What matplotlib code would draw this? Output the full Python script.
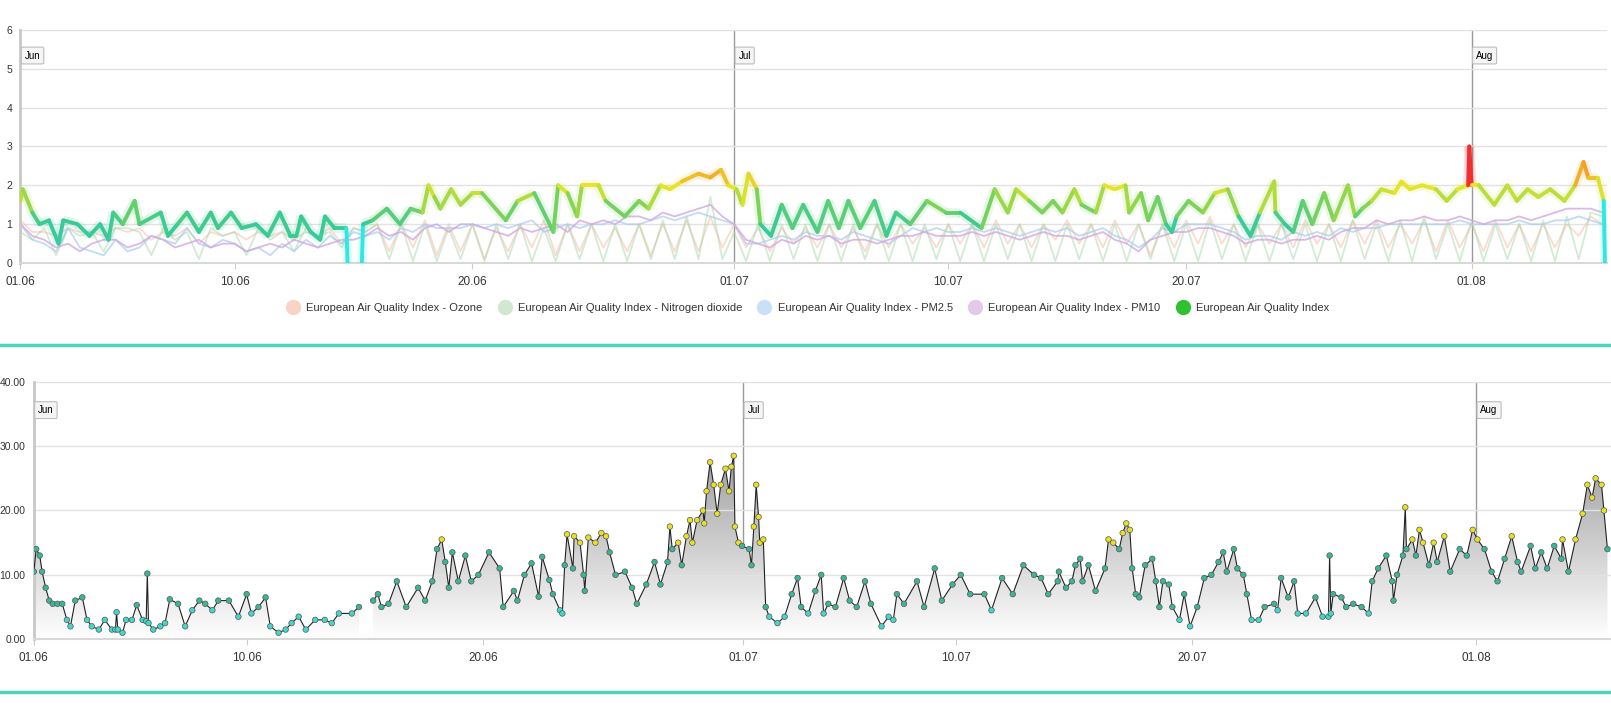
import numpy as np
import matplotlib
matplotlib.use("Agg")
import matplotlib.pyplot as plt
from matplotlib.collections import LineCollection
from matplotlib.colors import LinearSegmentedColormap
from matplotlib.lines import Line2D
from matplotlib.path import Path

# days counted from 01.06 00:00
TICK_DAYS   = [0, 9, 19, 30, 39, 49, 61]
TICK_LABELS = ["01.06", "10.06", "20.06", "01.07", "10.07", "20.07", "01.08"]
MONTH_DAYS  = [0, 30, 61]
MONTH_NAMES = ["Jun", "Jul", "Aug"]
X_END = 66.7

# ---- top chart: European Air Quality Index ----
aqi_days = [0, 0.1, 0.5, 0.8, 1.2, 1.6, 1.8, 2.4, 2.9, 3.35, 3.7, 3.9, 4.3, 4.8, 5.0, 5.9, 6.2, 6.6,
            7.0, 7.5, 8.0, 8.3, 8.85, 9.3, 9.9, 10.4, 10.9, 11.35, 11.6, 11.8, 12.2, 12.6, 12.8, 13.2,
            13.7, 13.75, 14.0, 14.35, 14.4, 14.8, 15.4, 15.95, 16.4, 16.9, 17.15, 17.4, 17.65, 18.1,
            18.5, 19.0,
            19.4, 20.4, 20.9, 21.6, 22.4, 22.6, 23.0, 23.4, 23.6, 24.3, 24.6, 25.4, 26.0, 26.4, 26.9,
            27.3, 27.8, 28.5, 29.0, 29.45, 29.75, 30.1, 30.35, 30.6, 30.95, 31.1, 31.55, 32.0, 32.45,
            32.9, 33.5, 33.95, 34.4, 34.8, 35.3, 35.9, 36.4, 36.8, 37.4, 38.1, 38.9, 39.5, 40.4, 40.95,
            41.5, 41.85, 42.4, 42.95,
            43.4, 43.8, 44.3, 44.6, 45.2, 45.55, 46.0, 46.45, 46.6, 47.1, 47.4, 47.8, 48.15, 48.4,
            48.6, 49.1, 49.7, 50.2, 50.75, 51.2, 51.7, 52.1, 52.7, 52.75, 53.15, 53.5, 53.9, 54.3,
            54.8, 55.2, 55.8, 56.1, 56.4, 56.8, 57.2, 57.75, 58.05, 58.4, 58.9, 59.5, 59.95, 60.4,
            60.85, 60.9, 61.0, 61.3, 61.95, 62.5, 62.9, 63.35, 63.8, 64.3, 64.9, 65.35, 65.7, 65.9,
            66.3, 66.55, 66.6]
aqi_vals = [1.6, 1.9, 1.3, 1.0, 1.1, 0.5, 1.1, 1.0, 0.7, 1.0, 0.6, 1.3, 1.0, 1.6, 1.0, 1.3, 0.7, 1.0,
            1.3, 0.8, 1.3, 0.9, 1.3, 0.9, 1.0, 0.7, 1.3, 0.7, 0.7, 1.2, 0.8, 0.6, 1.2, 0.9,
            0.9, 0.0, np.nan, 0.0, 1.0, 1.1, 1.4, 1.0, 1.4, 1.3, 2.0, 1.7, 1.4, 1.9,
            1.5, 1.8,
            1.8, 1.1, 1.6, 1.8, 0.8, 2.0, 1.8, 1.2, 2.0, 2.0, 1.6, 1.2, 1.6, 1.4, 2.0,
            1.9, 2.1, 2.3, 2.2, 2.4, 2.0, 1.9, 1.5, 2.3, 1.9, 1.0, 0.7, 1.5, 0.9,
            1.5, 0.8, 1.6, 0.9, 1.6, 0.9, 1.6, 0.7, 1.3, 1.0, 1.6, 1.3, 1.3, 0.9, 1.9,
            1.3, 1.9, 1.6, 1.3,
            1.6, 1.3, 1.9, 1.5, 1.3, 2.0, 1.9, 2.0, 1.3, 1.8, 1.1, 1.7, 1.0, 0.8,
            1.2, 1.6, 1.3, 1.8, 1.9, 1.2, 0.7, 1.3, 2.1, 1.3, 1.0, 0.8, 1.6, 1.0,
            1.8, 1.1, 2.0, 1.2, 1.4, 1.6, 1.9, 1.8, 2.1, 1.9, 2.0, 1.9, 1.6, 1.9,
            2.0, 3.0, 2.0, 2.0, 1.5, 2.0, 1.6, 1.9, 1.7, 1.9, 1.6, 2.0, 2.6, 2.2,
            2.2, 1.6, 0.0]

# sub indices, two readings per day (00:00 and 12:00)
pm10_vals = [1.0, 0.7, 0.6, 0.4, 0.5, 0.3, 0.5, 0.6, 0.6, 0.4, 0.5, 0.7, 0.6, 0.4, 0.5, 0.6, 0.4, 0.5, 0.5, 0.3,
             0.4, 0.5, 0.4, 0.6, 0.5, 0.4, 0.5, 0.6, 0.6, 0.7, 0.9, 0.7, 0.8, 0.6, 0.9, 1.0, 0.8, 1.0, 1.0, 0.9,
             0.8, 0.7, 0.9, 0.8, 0.9, 1.0, 0.8, 1.1, 1.0, 1.1, 1.0, 1.2, 1.2, 1.1, 1.3, 1.2, 1.3, 1.4, 1.5, 1.2,
             1.0, 0.6, 0.5, 0.4, 0.6, 0.5, 0.7, 0.6, 0.7, 0.5, 0.6, 0.6, 0.5, 0.6, 0.7, 0.7, 0.8, 0.7, 0.7, 0.7,
             0.8, 0.7, 0.8, 0.7, 0.6, 0.7, 0.8, 0.7, 0.7, 0.6, 0.7, 0.8, 0.6, 0.5, 0.3, 0.6, 0.7, 0.8, 0.8, 0.9,
             0.9, 0.8, 0.7, 0.5, 0.6, 0.6, 0.5, 0.6, 0.6, 0.7, 0.6, 0.8, 0.9, 0.9, 1.1, 1.0, 1.1, 1.1, 1.2, 1.1,
             1.1, 1.2, 1.1, 1.0, 1.1, 1.1, 1.2, 1.1, 1.2, 1.3, 1.4, 1.4, 1.4, 1.3]
no2_vals = [0.8, 0.6, 0.9, 0.2, 0.9, 0.7, 0.8, 0.3, 0.9, 0.9, 0.8, 0.2, 0.9, 0.6, 0.8, 0.1, 0.9, 0.7, 0.8, 0.2,
            0.9, 0.6, 0.8, 0.3, 0.9, 0.7, 0.8, 0.4, 0.9, 0.8, 1.0, 0.1, 1.0, 0.05, 1.0, 0.05, 0.9, 0.1, 1.0, 0.05,
            1.0, 0.1, 1.0, 0.05, 0.9, 0.05, 1.0, 0.1, 1.0, 0.05, 1.0, 0.05, 1.0, 0.1, 1.1, 0.1, 1.2, 0.1, 1.7, 0.1,
            0.8, 0.05, 1.0, 0.05, 1.0, 0.1, 1.0, 0.05, 1.0, 0.05, 1.0, 0.1, 1.0, 0.05, 1.0, 0.05, 1.0, 0.1, 1.0, 0.05,
            1.0, 0.05, 1.0, 0.1, 1.0, 0.05, 1.0, 0.05, 1.0, 0.1, 1.0, 0.05, 1.0, 0.05, 1.0, 0.1, 1.0, 0.05, 1.0, 0.05,
            1.1, 0.1, 1.0, 0.05, 1.0, 0.05, 1.0, 0.1, 1.0, 0.05, 1.0, 0.05, 1.1, 0.1, 1.0, 0.05, 1.1, 0.05, 1.2, 0.1,
            1.0, 0.05, 1.1, 0.05, 1.0, 0.1, 1.0, 0.05, 1.1, 0.05, 1.2, 0.1, 1.3, 1.2]
ozone_vals = [1.1, 0.8, 0.8, 0.7, 0.9, 0.8, 0.8, 0.7, 0.9, 0.8, 0.9, 0.6, 0.8, 0.7, 0.9, 0.5, 0.8, 0.7, 0.8, 0.6,
              0.8, 0.7, 0.8, 0.6, 0.8, 0.7, 0.9, 0.5, 0.9, 0.8, 1.0, 0.3, 1.0, 0.4, 1.1, 0.2, 1.0, 0.3, 1.0, 0.1,
              0.9, 0.3, 1.0, 0.4, 1.1, 0.2, 1.0, 0.3, 1.0, 0.4, 0.9, 0.3, 1.0, 0.2, 1.0, 0.3, 1.1, 0.3, 1.2, 0.4,
              1.0, 0.4, 0.9, 0.3, 0.9, 0.5, 0.9, 0.4, 1.0, 0.4, 0.9, 0.3, 1.0, 0.4, 1.0, 0.5, 0.9, 0.4, 1.0, 0.5,
              1.0, 0.4, 1.1, 0.5, 1.0, 0.4, 1.0, 0.6, 1.1, 0.5, 1.0, 0.4, 1.1, 0.5, 1.0, 0.2, 1.0, 0.4, 1.1, 0.5,
              1.2, 0.5, 1.0, 0.4, 1.0, 0.5, 1.0, 0.4, 1.1, 0.5, 1.0, 0.4, 1.1, 0.5, 1.1, 0.4, 1.0, 0.5, 1.1, 0.3,
              1.1, 0.4, 1.0, 0.3, 1.1, 0.4, 1.0, 0.3, 1.0, 0.4, 1.0, 0.7, 1.2, 1.0]
pm25_vals = [1.0, 0.6, 0.5, 0.3, 0.9, 0.4, 0.3, 0.2, 0.6, 0.3, 0.4, 0.7, 0.6, 0.5, 0.9, 0.5, 0.4, 0.6, 0.5, 0.3,
             0.4, 0.2, 0.5, 0.3, 0.6, 0.4, 0.7, 0.5, 0.8, 0.7, 0.8, 0.6, 0.9, 0.8, 1.0, 0.9, 0.9, 0.9, 1.0, 0.9,
             1.0, 0.9, 1.0, 1.1, 0.8, 0.9, 1.0, 0.9, 1.0, 1.0, 1.1, 1.0, 1.0, 1.1, 1.2, 1.1, 1.2, 1.3, 1.2, 1.1,
             1.0, 0.5, 0.5, 0.6, 0.7, 0.6, 0.8, 0.7, 0.7, 0.6, 0.8, 0.7, 0.6, 0.5, 0.7, 0.9, 0.8, 0.9, 0.8, 0.8,
             0.9, 0.8, 0.9, 0.8, 0.7, 0.8, 0.9, 0.8, 0.9, 0.7, 0.8, 0.9, 0.7, 0.6, 0.4, 0.6, 0.9, 0.8, 1.0, 1.0,
             1.0, 0.9, 0.8, 0.6, 0.7, 0.7, 0.6, 0.8, 0.7, 0.8, 0.7, 0.9, 0.8, 0.9, 0.9, 1.0, 1.0, 1.0, 1.0, 1.0,
             1.0, 1.1, 1.0, 1.0, 1.0, 1.0, 1.1, 1.0, 1.0, 1.1, 1.1, 1.2, 1.1, 1.0]

# ---- bottom chart: PM concentration ----
pm_days = [0.0, 0.1, 0.25, 0.35, 0.5, 0.65, 0.8, 1.0, 1.2, 1.4, 1.55, 1.75, 2.05, 2.25, 2.45, 2.75, 3.0,
           3.3, 3.45, 3.5, 3.55, 3.75, 3.9, 4.15, 4.35, 4.6, 4.75, 4.8, 4.85, 5.05, 5.35, 5.55, 5.75, 6.1,
           6.4, 6.7, 7.0, 7.25, 7.55, 7.8, 8.25, 8.65, 9.0, 9.2, 9.5, 9.8, 10.0, 10.35, 10.65, 10.9, 11.2,
           11.5, 11.9, 12.3, 12.6, 12.9, 13.45, 13.75, 14.0,
           14.35, 14.55, 14.7, 15.0, 15.35, 15.75, 16.25, 16.55, 16.85, 17.05, 17.25, 17.4, 17.55, 17.7,
           17.95, 18.25, 18.5, 18.8,
           19.25, 19.7, 19.85, 20.3, 20.45, 20.75, 21.05, 21.35, 21.5, 21.8, 21.95, 22.25, 22.35, 22.45,
           22.55, 22.8, 22.85, 23.1, 23.25, 23.3, 23.45, 23.75, 24.0, 24.2, 24.35, 24.6, 25.0, 25.3, 25.5,
           25.9, 26.25, 26.5, 26.8, 26.9, 27.0, 27.25, 27.4, 27.6, 27.75, 27.85, 28.05, 28.3, 28.35, 28.45,
           28.6, 28.75, 28.9, 29.05, 29.25, 29.4, 29.5, 29.6, 29.65, 29.8, 29.95, 30.25, 30.35, 30.45,
           30.55, 30.65, 30.7, 30.85, 30.95, 31.1, 31.45, 31.75, 32.05, 32.3, 32.45, 32.75, 33.05, 33.3,
           33.4, 33.6, 33.9, 34.25, 34.5, 34.8, 35.15, 35.4, 35.85, 36.15, 36.35, 36.5, 36.8, 37.35, 37.65,
           38.1, 38.4, 38.85, 39.2, 39.6, 40.2, 40.5, 40.95, 41.4, 41.85, 42.3,
           42.6, 42.9, 43.3, 43.35, 43.65, 43.9, 44.05, 44.25, 44.35, 44.6, 44.9, 45.3, 45.45, 45.65,
           45.9, 46.05, 46.2, 46.35, 46.45, 46.6, 46.75, 47.0, 47.3, 47.45, 47.6, 47.75, 48.0, 48.15,
           48.45, 48.65, 48.9, 49.2, 49.5, 49.8, 50.1, 50.3, 50.45, 50.75, 50.9, 51.15, 51.3, 51.5, 51.8,
           52.05, 52.45, 52.6, 52.75, 53.05, 53.3, 53.45, 53.8, 54.2, 54.5, 54.75, 54.8, 54.85, 54.95,
           55.3, 55.5, 55.8, 56.15, 56.45, 56.6, 56.85, 57.2, 57.45, 57.5, 57.65, 57.9, 58.0, 58.05,
           58.3, 58.45, 58.6, 58.75, 59.0, 59.2, 59.35, 59.65, 59.9, 60.3, 60.6, 60.85, 61.05, 61.35,
           61.65, 61.9, 62.2, 62.5, 62.75, 62.9, 63.3, 63.5, 63.75, 64.0, 64.3, 64.6, 64.65, 64.9, 65.2,
           65.5, 65.7, 65.9, 66.05, 66.3, 66.4, 66.55]
pm_vals = [10.5, 14, 13, 10.5, 8, 6, 5.5, 5.5, 5.5, 3, 2, 6, 6.5, 3, 2, 1.5, 3,
           1.5, 1.5, 4.2, 1.5, 1.0, 3, 3, 5.3, 3, 2.8, 10.2, 2.5, 1.5, 2, 2.5, 6.2, 5.5,
           2, 4.5, 6, 5.5, 4.5, 6, 6, 3.5, 7, 4, 5, 6.5, 2, 1, 1.5, 2.5, 3.5,
           1.5, 3, 3, 2.5, 4, 4, 5, np.nan,
           6, 7, 5, 5.5, 9, 5, 8, 6, 9, 14, 15.5, 12, 8, 13.5,
           9, 13, 9, 10,
           13.5, 11, 5, 7.5, 6, 10, 11.8, 6.6, 12.8, 9.2, 7, 4.5, 4, 11.5,
           16.3, 11, 16, 15, 10, 7.5, 15.8, 15, 16.5, 16, 13.5, 10, 10.5, 8, 5.5,
           8.5, 12, 8.5, 12, 17.5, 14, 15, 11.5, 16, 18.5, 15, 18.5, 20, 18, 23,
           27.5, 24, 19.5, 24, 26.5, 23, 26.8, 28.5, 17.5, 15, 14.5, 14, 11.5, 17.5,
           24, 19, 15, 15.5, 5, 3.5, 2.5, 3.5, 7, 9.5, 5, 4, 7.5, 10,
           4, 5.5, 5, 9.5, 6, 5, 9, 5.5, 2, 3.5, 3, 7, 5.5, 9, 5,
           11, 6, 8.5, 10, 7, 7, 4.5, 9.5, 7, 11.5, 10,
           9.5, 7, 9, 10.5, 8, 9, 11.5, 12.5, 9, 11.5, 7.5, 11, 15.5, 15,
           14, 16.5, 18, 17, 11, 7, 6.5, 11.5, 12.5, 9, 5, 9, 8.5, 5,
           3, 7, 2, 5, 9.5, 10, 12, 13.5, 10.5, 14, 11, 10, 7, 3, 3,
           5, 5.5, 4.5, 9.5, 6.5, 9, 4, 4, 6.5, 3.5, 3.5, 13, 4, 7,
           6.5, 5, 5.5, 5, 4, 9, 11, 13, 9, 6, 10, 13, 20.5, 14,
           15.5, 13, 17, 15, 11.5, 15, 12, 16, 10.5, 14, 13, 17, 15.5, 14,
           10.5, 9, 12.5, 16, 12, 10.5, 14.5, 11, 13.5, 11, 14.5, 12.5, 15.5, 10.5, 15.5,
           19.5, 24, 22, 25, 24, 20, 14]

LEGEND_NAMES  = ["European Air Quality Index - Ozone", "European Air Quality Index - Nitrogen dioxide",
                 "European Air Quality Index - PM2.5", "European Air Quality Index - PM10",
                 "European Air Quality Index"]
LEGEND_COLORS = ["#f9d3c6", "#cfe8cf", "#c9e0f7", "#e2c9ea", "#2fc12f"]

TEXT = "#333333"
GRID = "#e2e2e2"
TEAL = "#4dd3bd"

plt.rcParams["font.family"] = ["Liberation Sans", "DejaVu Sans"]

fig = plt.figure(figsize=(16.11, 7.11), dpi=100)
ax1 = fig.add_axes([0.0127, 0.630, 0.985, 0.328])
ax2 = fig.add_axes([0.021, 0.101, 0.979, 0.362])


def style_axes(ax, ymax, ystep, fmt):
    ax.set_xlim(0, X_END)
    ax.set_ylim(0, ymax)
    ax.set_yticks(np.arange(0, ymax + 0.01, ystep))
    ax.set_yticklabels([fmt.format(v) for v in np.arange(0, ymax + 0.01, ystep)])
    ax.set_xticks(TICK_DAYS)
    ax.set_xticklabels(TICK_LABELS)
    ax.tick_params(axis="y", length=0, labelsize=7.5, labelcolor=TEXT, pad=6)
    ax.tick_params(axis="x", length=4, color="#cccccc", labelsize=8.5, labelcolor=TEXT, pad=5)
    ax.grid(axis="y", color=GRID, linewidth=1, zorder=0)
    for side in ("top", "right"):
        ax.spines[side].set_visible(False)
    ax.spines["bottom"].set_color("#d8d8d8")
    ax.spines["bottom"].set_linewidth(1.5)
    ax.spines["left"].set_color("#c8c8c8")
    ax.spines["left"].set_linewidth(2)
    for d, name in zip(MONTH_DAYS, MONTH_NAMES):
        if d > 0:
            ax.axvline(d, color="#999999", linewidth=1, zorder=1)
        ax.text(d + 0.18, 0.89, name, transform=ax.get_xaxis_transform(), fontsize=7,
                color="black", va="center", ha="left", zorder=6,
                bbox=dict(boxstyle="round,pad=0.35,rounding_size=0.15", fc="#f5f5f5", ec="#bdbdbd", lw=0.8))


# ---- top ----
style_axes(ax1, 6, 1, "{:.0f}")
half_days = np.arange(len(pm10_vals)) * 0.5
ax1.plot(half_days, ozone_vals, color="#f6b8a4", linewidth=1.3, alpha=0.5, zorder=2)
ax1.plot(half_days, no2_vals, color="#a8d8a8", linewidth=1.3, alpha=0.5, zorder=2)
ax1.plot(half_days, pm25_vals, color="#a8ccf0", linewidth=1.3, alpha=0.7, zorder=2)
ax1.plot(half_days, pm10_vals, color="#d2a8e0", linewidth=1.3, alpha=0.8, zorder=2)

aqi_cmap = LinearSegmentedColormap.from_list(
    "aqi", [(0, "#30e8e0"), (0.2, "#33c9a4"), (0.36, "#3fca90"), (0.5, "#86d452"),
            (0.66, "#e8e628"), (0.82, "#f5952a"), (1.0, "#f03030")])
ad = np.array(aqi_days)
av = np.array(aqi_vals)
pts = np.column_stack([ad, av]).reshape(-1, 1, 2)
segs = np.concatenate([pts[:-1], pts[1:]], axis=1)
pair = np.column_stack([av[:-1], av[1:]])
seg_vals = np.nanmean(pair, axis=1)
seg_vals = np.where(np.nanmax(pair, axis=1) >= 2.9, 3.0, seg_vals)
seg_vals = np.where(np.nanmin(pair, axis=1) < 0.05, 0.0, seg_vals)
glow = LineCollection(segs, cmap=aqi_cmap, linewidth=7, alpha=0.15, zorder=3)
glow.set_array(seg_vals)
glow.set_clim(0, 3)
ax1.add_collection(glow)
main = LineCollection(segs, cmap=aqi_cmap, linewidth=2.8, zorder=4, capstyle="round", joinstyle="round")
main.set_array(seg_vals)
main.set_clim(0, 3)
ax1.add_collection(main)

handles = [Line2D([], [], marker="o", linestyle="", markersize=10, color=c) for c in LEGEND_COLORS]
fig.legend(handles, LEGEND_NAMES, loc="center", bbox_to_anchor=(0.5, 0.567), ncol=5, frameon=False,
           fontsize=8, labelcolor=TEXT, handletextpad=0.2, columnspacing=1.0)

# ---- bottom ----
style_axes(ax2, 40, 10, "{:.2f}")
px = np.array(pm_days)
pv = np.array(pm_vals)
fill = ax2.fill_between(px, 0, pv, color="none", linewidth=0)
clip = Path.make_compound_path(*fill.get_paths())
grad = np.linspace(1, 0, 256).reshape(-1, 1)
gmap = LinearSegmentedColormap.from_list("g", ["#ffffff", "#9a9a9a"])
img = ax2.imshow(grad, extent=[0, X_END, 0, 30], aspect="auto", cmap=gmap, vmin=0, vmax=1,
                 origin="upper", zorder=1)
img.set_clip_path(clip, ax2.transData)
ax2.set_xlim(0, X_END)
ax2.set_ylim(0, 40)
ax2.plot(px, pv, color="#222222", linewidth=0.8, zorder=3)
mcol = np.where(pv >= 15, "#e8e020", np.where(pv < 5, "#3fd8cc", "#39b597"))
ok = ~np.isnan(pv)
ax2.scatter(px[ok], pv[ok], s=16, c=mcol[ok], edgecolors="#555555", linewidths=0.5, zorder=4)

# teal separators
for y in (0.515, 0.027):
    fig.add_artist(Line2D([0, 1], [y, y], color=TEAL, linewidth=2.5, transform=fig.transFigure))

fig.savefig("out.png", dpi=100)
